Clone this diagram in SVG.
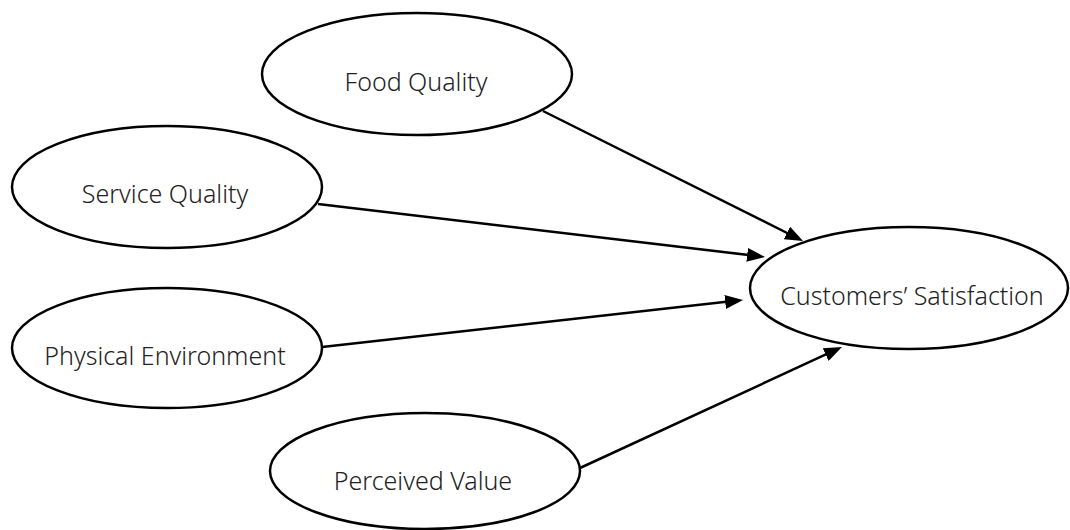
<svg xmlns="http://www.w3.org/2000/svg" width="1070" height="530" viewBox="0 0 1070 530">
<style>
.node ellipse{fill:#fff;stroke:#000;stroke-width:2.5}
.node text{font-family:"Noto Sans","Open Sans",sans-serif;font-size:25px;font-weight:300;fill:#222;text-anchor:middle}
.conn line{stroke:#000;stroke-width:2.5;marker-end:url(#arr)}
</style>
<defs>
<marker id="arr" markerUnits="userSpaceOnUse" markerWidth="18" markerHeight="14" refX="8" refY="7" orient="auto">
<path d="M0,0 L18,7 L0,14 z" fill="#000"/>
</marker>
</defs>
<rect width="1070" height="530" fill="#fff"/>
<g id="connectors" class="conn">
<line x1="543" y1="111" x2="794.1" y2="236.5"/>
<line x1="318" y1="204" x2="755.1" y2="255.8"/>
<line x1="322" y1="347" x2="733.1" y2="301.1"/>
<line x1="580" y1="468" x2="832.9" y2="351.2"/>
</g>
<g id="food-quality" class="node">
<ellipse cx="417" cy="74" rx="155" ry="61"/>
<text x="416" y="91">Food Quality</text>
</g>
<g id="service-quality" class="node">
<ellipse cx="167" cy="187" rx="155" ry="61"/>
<text x="165" y="203">Service Quality</text>
</g>
<g id="physical-environment" class="node">
<ellipse cx="167" cy="348" rx="155" ry="60"/>
<text x="165" y="365">Physical Environment</text>
</g>
<g id="perceived-value" class="node">
<ellipse cx="425" cy="471" rx="155" ry="58"/>
<text x="423" y="490">Perceived Value</text>
</g>
<g id="customers-satisfaction" class="node">
<ellipse cx="909" cy="288" rx="159" ry="61"/>
<text x="912" y="305">Customers’ Satisfaction</text>
</g>
</svg>
